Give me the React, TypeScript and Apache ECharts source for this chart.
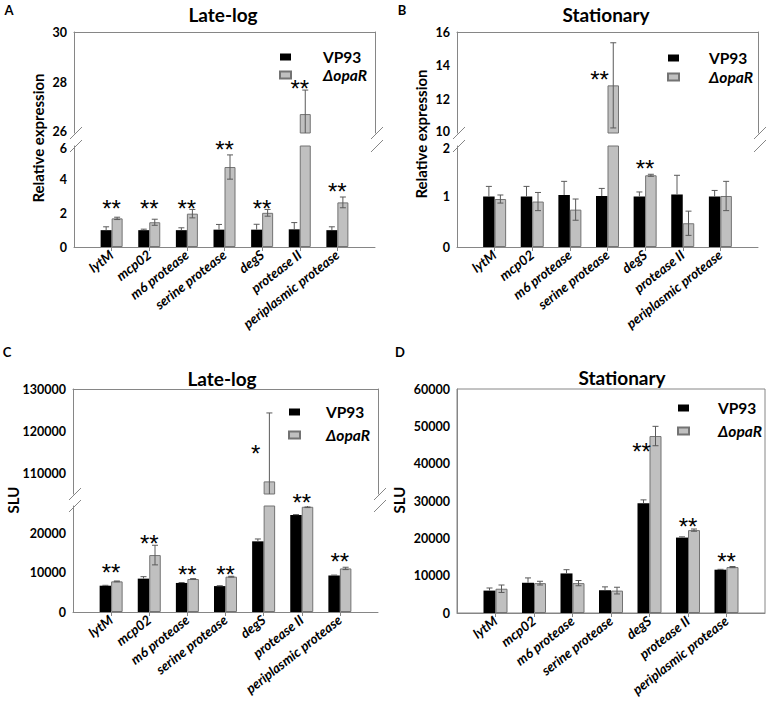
import * as echarts from 'echarts';
import React, { useEffect, useRef } from 'react';

const genes = [
  'lytM',
  'mcp02',
  'm6 protease',
  'serine protease',
  'degS',
  'protease II',
  'periplasmic protease',
];
const strains = ['VP93', 'ΔopaR'];

// A: relative expression, late-log
const aVP93 = [1.0, 1.0, 1.0, 1.03, 1.03, 1.05, 1.0];
const aVP93Err = [0.2, 0.06, 0.14, 0.31, 0.32, 0.4, 0.2];
const aOpaR = [1.7, 1.47, 1.98, 4.75, 2.03, 26.75, 2.65];
const aOpaRErr = [0.07, 0.18, 0.25, 0.72, 0.2, 0.95, 0.32];
const aStars = ['**', '**', '**', '**', '**', '**', '**'];
const aStarAt = [2.6, 2.6, 2.6, 6.06, 2.6, 27.97, 3.6];

// B: relative expression, stationary
const bVP93 = [1.0, 1.0, 1.03, 1.01, 1.0, 1.04, 1.0];
const bVP93Err = [0.2, 0.2, 0.27, 0.15, 0.09, 0.38, 0.12];
const bOpaR = [0.95, 0.9, 0.74, 12.83, 1.42, 0.47, 1.01];
const bOpaRErr = [0.08, 0.18, 0.21, 2.53, 0.02, 0.24, 0.29];
const bStars = ['', '', '', '**', '**', '', ''];
const bStarAt = [0, 0, 0, 13.5, 1.66, 0, 0];

// C: SLU, late-log
const cVP93 = [6700, 8500, 7400, 6600, 18000, 24700, 9300];
const cVP93Err = [100, 500, 100, 100, 600, 100, 100];
const cOpaR = [7800, 14500, 8400, 9000, 108000, 26800, 11100];
const cOpaRErr = [100, 2500, 100, 100, 16300, 200, 300];
const cStars = ['**', '**', '**', '**', '*', '**', '**'];
const cStarAt = [11450, 18680, 10870, 10870, 115840, 29260, 14170];

// D: SLU, stationary
const dVP93 = [6000, 8100, 10600, 6100, 29400, 20200, 11600];
const dVP93Err = [700, 1300, 1000, 900, 900, 200, 100];
const dOpaR = [6500, 8000, 8000, 6000, 47400, 22200, 12300];
const dOpaRErr = [1000, 500, 700, 900, 2600, 300, 150];
const dStars = ['', '', '', '', '**', '**', '**'];
const dStarAt = [0, 0, 0, 0, 44670, 24560, 15170];

const FONT = 'Lato, "Liberation Sans", sans-serif';
const STAR_FONT = '"Liberation Sans", Arial, sans-serif';
const AXIS = '#868686';
const ERR = '#5a5a5a';
const GRAY = '#c0c0c0';
const GRAY_EDGE = '#737373';

interface Segment {
  top: number;
  bottom: number;
  min: number;
  max: number;
  interval: number;
  labelStep: number;
}

interface Panel {
  letter: string;
  title: string;
  yName: string;
  left: number;
  right: number;
  barW: number;
  segs: Segment[];
  vp: number[];
  vpErr: number[];
  op: number[];
  opErr: number[];
  stars: string[];
  starAt: number[];
  titleX: number;
  titleY: number;
  letterX: number;
  letterY: number;
  yNameX: number;
  yNameY: number;
  legendLeft: number;
  legendTop: number;
  legendGap: number;
  legendPad: number;
}

const panels: Panel[] = [
  {
    letter: 'A', title: 'Late-log', yName: 'Relative expression',
    left: 74, right: 375, barW: 11,
    segs: [
      { top: 32, bottom: 133, min: 26, max: 30, interval: 2, labelStep: 2 },
      { top: 146, bottom: 247, min: 0, max: 6, interval: 2, labelStep: 2 },
    ],
    vp: aVP93, vpErr: aVP93Err, op: aOpaR, opErr: aOpaRErr, stars: aStars, starAt: aStarAt,
    titleX: 223, titleY: 14, letterX: 9, letterY: 10, yNameX: 38, yNameY: 138,
    legendLeft: 274, legendTop: 44, legendGap: 2, legendPad: 27,
  },
  {
    letter: 'B', title: 'Stationary', yName: 'Relative expression',
    left: 457, right: 758, barW: 11.5,
    segs: [
      { top: 32, bottom: 133, min: 10, max: 16, interval: 2, labelStep: 2 },
      { top: 146, bottom: 247, min: 0, max: 2, interval: 1, labelStep: 1 },
    ],
    vp: bVP93, vpErr: bVP93Err, op: bOpaR, opErr: bOpaRErr, stars: bStars, starAt: bStarAt,
    titleX: 606, titleY: 14, letterX: 402, letterY: 10, yNameX: 421, yNameY: 134,
    legendLeft: 662, legendTop: 45, legendGap: 3, legendPad: 25,
  },
  {
    letter: 'C', title: 'Late-log', yName: 'SLU',
    left: 73, right: 378, barW: 11.5,
    segs: [
      { top: 389, bottom: 494, min: 105000, max: 130000, interval: 5000, labelStep: 10000 },
      { top: 506, bottom: 612, min: 0, max: 27000, interval: 10000, labelStep: 10000 },
    ],
    vp: cVP93, vpErr: cVP93Err, op: cOpaR, opErr: cOpaRErr, stars: cStars, starAt: cStarAt,
    titleX: 222, titleY: 378, letterX: 7, letterY: 352, yNameX: 13, yNameY: 500,
    legendLeft: 283, legendTop: 399, legendGap: 7, legendPad: 21,
  },
  {
    letter: 'D', title: 'Stationary', yName: 'SLU',
    left: 457, right: 765, barW: 12,
    segs: [{ top: 389, bottom: 613, min: 0, max: 60000, interval: 10000, labelStep: 10000 }],
    vp: dVP93, vpErr: dVP93Err, op: dOpaR, opErr: dOpaRErr, stars: dStars, starAt: dStarAt,
    titleX: 622, titleY: 377, letterX: 400, letterY: 352, yNameX: 399, yNameY: 500,
    legendLeft: 672, legendTop: 395, legendGap: 7, legendPad: 24,
  },
];

function errorSeries(
  vals: number[], errs: number[], side: number, upOnly: boolean, barW: number,
  xAxisIndex: number, yAxisIndex: number,
) {
  return {
    type: 'custom',
    xAxisIndex,
    yAxisIndex,
    clip: true,
    z: 3,
    silent: true,
    data: vals.map((v, i) => [i + 1, v, errs[i]]),
    renderItem: (_params: any, api: any) => {
      const c = api.value(0);
      const v = api.value(1);
      const e = api.value(2);
      const x = api.coord([c, v])[0] + (side * barW) / 2;
      const yTop = api.coord([c, v + e])[1];
      const yBot = api.coord([c, upOnly ? v : v - e])[1];
      const st = { stroke: ERR, lineWidth: 1 };
      const kids: any[] = [
        { type: 'line', shape: { x1: x, y1: yTop, x2: x, y2: yBot }, style: st },
        { type: 'line', shape: { x1: x - 3, y1: yTop, x2: x + 3, y2: yTop }, style: st },
      ];
      if (!upOnly) {
        kids.push({ type: 'line', shape: { x1: x - 3, y1: yBot, x2: x + 3, y2: yBot }, style: st });
      }
      return { type: 'group', children: kids };
    },
  };
}

const tickFont = { fontFamily: FONT, fontSize: 12.5, fontWeight: 'bold', color: '#000' };

function buildOption() {
  const grids: any[] = [];
  const xAxes: any[] = [];
  const yAxes: any[] = [];
  const series: any[] = [];
  const legends: any[] = [];
  const graphics: any[] = [];
  const cats = ['', ...genes, ''];

  panels.forEach((p) => {
    const broken = p.segs.length > 1;
    p.segs.forEach((s, si) => {
      const isTop = si === 0;
      const isBottom = si === p.segs.length - 1;
      const gi = grids.length;
      grids.push({
        left: p.left,
        top: s.top,
        width: p.right - p.left,
        height: s.bottom - s.top,
        show: !broken,
        borderColor: AXIS,
        borderWidth: 1,
        backgroundColor: 'transparent',
        containLabel: false,
        outerBoundsMode: 'none',
      });
      const xi = xAxes.length;
      xAxes.push({
        type: 'category',
        gridIndex: gi,
        data: cats,
        boundaryGap: false,
        position: isBottom ? 'bottom' : 'top',
        axisLine: { show: true, lineStyle: { color: AXIS, width: 1 } },
        axisTick: {
          show: isBottom,
          length: 4,
          interval: (i: number) => i > 0 && i < cats.length - 1,
          lineStyle: { color: AXIS },
        },
        axisLabel: {
          show: isBottom,
          interval: 0,
          rotate: 38,
          margin: 6,
          fontFamily: FONT,
          fontSize: 13.5,
          fontWeight: 'bold',
          fontStyle: 'italic',
          color: '#000',
        },
        splitLine: { show: false },
      });
      const yi = yAxes.length;
      yAxes.push({
        type: 'value',
        gridIndex: gi,
        min: s.min,
        max: s.max,
        interval: s.interval,
        axisLine: { show: true, lineStyle: { color: AXIS, width: 1 } },
        axisTick: { show: false },
        splitLine: { show: false },
        axisLabel: {
          margin: 7,
          ...tickFont,
          formatter: (v: number) => {
            if (Math.abs(v % s.labelStep) > 1e-9) return '';
            // labels either side of a break are nudged apart a little
            if (broken && isTop && v === s.min) return `{lo|${v}}`;
            if (broken && !isTop && v === s.max) return `{hi|${v}}`;
            return String(v);
          },
          rich: {
            lo: { ...tickFont, lineHeight: 12, padding: [0, 0, 4, 0] },
            hi: { ...tickFont, lineHeight: 12, padding: [4, 0, 0, 0] },
          },
        },
      });
      if (broken && isTop) {
        yAxes.push({
          type: 'value',
          gridIndex: gi,
          position: 'right',
          min: s.min,
          max: s.max,
          axisLine: { show: true, lineStyle: { color: AXIS, width: 1 } },
          axisTick: { show: false },
          axisLabel: { show: false },
          splitLine: { show: false },
        });
      }

      const pad = (arr: number[]) => ['-', ...arr, '-'];
      series.push({
        type: 'bar',
        name: strains[0],
        xAxisIndex: xi,
        yAxisIndex: yi,
        data: pad(p.vp),
        barWidth: p.barW,
        barGap: '0%',
        clip: true,
        itemStyle: { color: '#000' },
      });
      series.push({
        type: 'bar',
        name: strains[1],
        xAxisIndex: xi,
        yAxisIndex: yi,
        data: pad(p.op),
        barWidth: p.barW,
        barGap: '0%',
        clip: true,
        itemStyle: { color: GRAY, borderColor: GRAY_EDGE, borderWidth: 1 },
      });
      series.push(errorSeries(p.vp, p.vpErr, -1, true, p.barW, xi, yi));
      series.push(errorSeries(p.op, p.opErr, 1, false, p.barW, xi, yi));

      // significance marks belonging to this segment
      const items = p.stars
        .map((t, i) => ({
          text: t,
          cat: i + 1,
          at: p.starAt[i],
          dx: p.op[i] + p.opErr[i] > p.starAt[i] ? -8 : 0,
        }))
        .filter((it) => it.text !== '')
        .filter((it) => {
          if (!broken) return true;
          const up = it.at >= p.segs[0].min;
          return isTop ? up : !up;
        });
      if (items.length) {
        series.push({
          type: 'custom',
          xAxisIndex: xi,
          yAxisIndex: yi,
          clip: false,
          z: 4,
          silent: true,
          data: items.map((it) => [it.cat, it.at]),
          renderItem: (params: any, api: any) => {
            const it = items[params.dataIndex];
            const pt = api.coord([api.value(0), api.value(1)]);
            return {
              type: 'text',
              x: pt[0] + it.dx,
              y: pt[1] + 5,
              style: {
                text: it.text,
                fontFamily: STAR_FONT,
                fontSize: 24,
                fill: '#000',
                align: 'center',
                verticalAlign: 'middle',
              },
            };
          },
        });
      }
    });

    if (broken) {
      const yA = p.segs[0].bottom;
      const yB = p.segs[1].top;
      [p.left, p.right].forEach((x) => {
        [yA, yB].forEach((y) => {
          graphics.push({
            type: 'line',
            shape: { x1: x - 4, y1: y + 6, x2: x + 8, y2: y - 6 },
            style: { stroke: AXIS, lineWidth: 1 },
            silent: true,
          });
        });
      });
    }

    graphics.push({
      type: 'text',
      x: p.titleX,
      y: p.titleY,
      style: {
        text: p.title, fontFamily: FONT, fontSize: 19, fontWeight: 'bold',
        fill: '#000', align: 'center', verticalAlign: 'middle',
      },
    });
    graphics.push({
      type: 'text',
      x: p.letterX,
      y: p.letterY,
      style: {
        text: p.letter, fontFamily: FONT, fontSize: 13, fontWeight: 'bold',
        fill: '#000', align: 'center', verticalAlign: 'middle',
      },
    });
    graphics.push({
      type: 'text',
      x: p.yNameX,
      y: p.yNameY,
      rotation: Math.PI / 2,
      style: {
        text: p.yName, fontFamily: FONT, fontSize: 15, fontWeight: 'bold',
        fill: '#000', align: 'center', verticalAlign: 'middle',
      },
    });

    legends.push({
      orient: 'vertical',
      left: p.legendLeft,
      top: p.legendTop,
      itemWidth: 11,
      itemHeight: 7,
      itemGap: p.legendGap,
      icon: 'rect',
      selectedMode: false,
      data: strains,
      formatter: (name: string) =>
        name === strains[1] ? `{s|}{i|${name}}` : `{s|}{b|${name}}`,
      textStyle: {
        rich: {
          s: { width: p.legendPad, height: 16 },
          b: { fontFamily: FONT, fontSize: 15.5, fontWeight: 'bold', color: '#000', lineHeight: 16 },
          i: {
            fontFamily: FONT, fontSize: 15.5, fontWeight: 'bold', fontStyle: 'italic',
            color: '#000', lineHeight: 16,
          },
        },
      },
    });
  });

  return {
    animation: false,
    backgroundColor: '#fff',
    grid: grids,
    xAxis: xAxes,
    yAxis: yAxes,
    legend: legends,
    series,
    graphic: graphics,
  };
}

const App: React.FC = () => {
  const chartRef = useRef<HTMLDivElement>(null);

  useEffect(() => {
    if (!chartRef.current) return;
    const chart = echarts.init(chartRef.current, undefined, { renderer: 'svg' });
    chart.setOption(buildOption() as any);
    return () => {
      chart.dispose();
    };
  }, []);

  return (
    <div
      ref={chartRef}
      style={{ position: 'absolute', left: 0, top: 0, width: 770, height: 710, background: '#fff' }}
    />
  );
};

export default App;
